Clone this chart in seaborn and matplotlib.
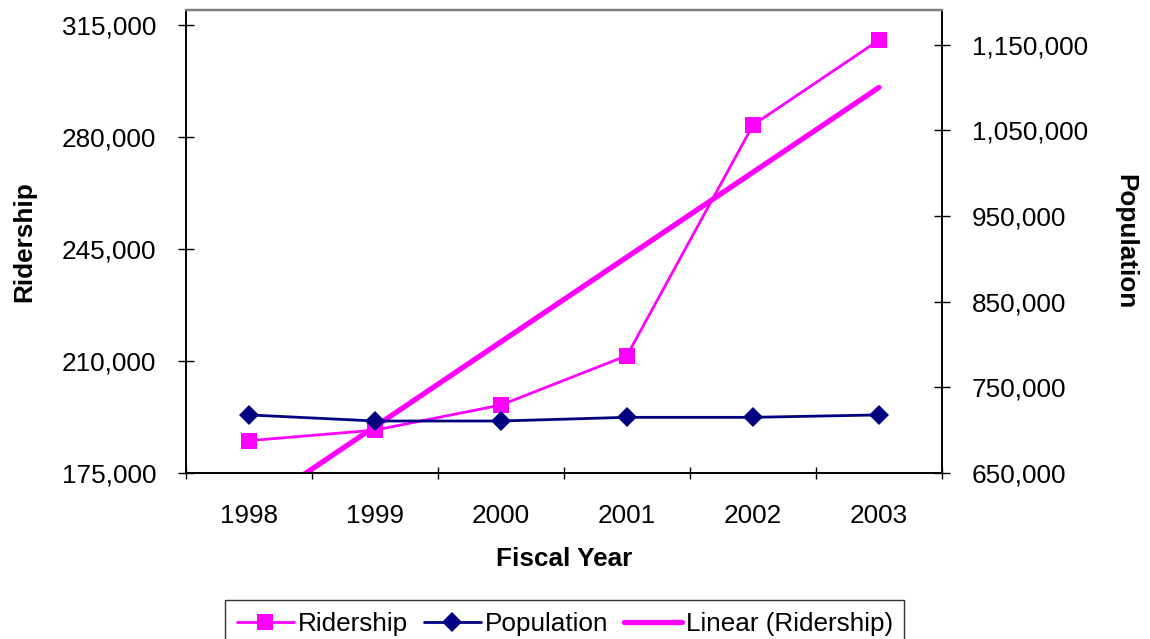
import numpy as np
import pandas as pd
import matplotlib
matplotlib.use("Agg")
import matplotlib.pyplot as plt
import seaborn as sns
from matplotlib.ticker import FuncFormatter, FixedLocator

years = ["1998", "1999", "2000", "2001", "2002", "2003"]
ridership = [185100, 188400, 196250, 211700, 283750, 310300]
population = [717800, 710700, 710700, 715000, 715000, 717800]
left_ticks = [175000, 210000, 245000, 280000, 315000]
right_ticks = [650000, 750000, 850000, 950000, 1050000, 1150000]

sns.set_theme(style="white")
plt.rcParams['font.family'] = ['Liberation Sans', 'DejaVu Sans']
plt.rcParams['text.color'] = 'black'
plt.rcParams['axes.labelcolor'] = 'black'
FS = 18.8

fig = plt.figure(figsize=(11.5, 6.39), dpi=100)
ax = fig.add_axes([186/1150, 1-473/639, (942-186)/1150, (473-10)/639])
ax2 = ax.twinx()

df = pd.DataFrame({"year": years, "ridership": ridership, "population": population})
idx = np.arange(1, len(years)+1)
coef = np.polyfit(idx, ridership, 1)
df["trend"] = np.polyval(coef, idx)

MAG = "#FF00FF"
NAVY = "#000080"

sns.lineplot(data=df, x="year", y="ridership", ax=ax, sort=False, color=MAG,
             marker="s", markersize=11.5, markeredgewidth=0, linewidth=2.0,
             label="Ridership", zorder=3)
sns.lineplot(data=df, x="year", y="trend", ax=ax, sort=False, color=MAG,
             linewidth=3.8, label="Linear (Ridership)", zorder=4)
sns.lineplot(data=df, x="year", y="population", ax=ax2, sort=False, color=NAVY,
             marker="D", markersize=10.5, markeredgewidth=0, linewidth=2.0,
             label="Population", zorder=3)

ax.set_xlim(-0.5, len(years)-0.5)
ax.set_ylim(175000, 319700)
ax2.set_ylim(650000, 1190500)

fmt = FuncFormatter(lambda v, p: f"{int(round(v)):,}")
ax.yaxis.set_major_locator(FixedLocator(left_ticks))
ax2.yaxis.set_major_locator(FixedLocator(right_ticks))
ax.yaxis.set_major_formatter(fmt)
ax2.yaxis.set_major_formatter(fmt)

ax.set_xticks(range(len(years)))
ax.set_xticklabels(years)
ax.xaxis.set_minor_locator(FixedLocator(np.arange(-0.5, len(years), 1.0)))
ax.tick_params(axis="x", which="major", length=0, pad=22, labelsize=FS, colors="black")
ax.tick_params(axis="x", which="minor", length=9, width=1.0, direction="inout", bottom=True, color="black")
ax.tick_params(axis="y", which="major", length=11, width=1.0, direction="inout", left=True,
               pad=16, labelsize=FS, colors="black")
ax2.tick_params(axis="y", which="major", length=11, width=1.0, direction="inout", right=True,
                pad=16, labelsize=FS, colors="black")

for a in (ax, ax2):
    for s in a.spines.values():
        s.set_color("black")
        s.set_linewidth(1.2)
    a.spines["top"].set_color("#808080")
    a.spines["top"].set_linewidth(1.6)
    a.grid(False)

ax.set_xlabel("Fiscal Year", fontsize=FS, fontweight="bold", color="black")
ax.xaxis.set_label_coords(0.5, -0.16)
ax.xaxis.label.set_va("top")
ax.set_ylabel("Ridership", fontsize=FS, fontweight="bold", color="black")
ax.yaxis.set_label_coords(-0.198, 0.5)
ax2.set_ylabel("Population", fontsize=FS, fontweight="bold", rotation=270, va="bottom", color="black")
ax2.yaxis.set_label_coords(1.226, 0.5)

h1, l1 = ax.get_legend_handles_labels()
h2, l2 = ax2.get_legend_handles_labels()
ax.get_legend().remove()
ax2.get_legend().remove()
handles = [h1[0], h2[0], h1[1]]
labels = [l1[0], l2[0], l1[1]]
leg = fig.legend(handles, labels, loc="upper center", bbox_to_anchor=(0.491, 1-600/639),
                 ncol=3, fontsize=FS, frameon=True, fancybox=False, edgecolor="black",
                 handlelength=2.2, handletextpad=0.15, columnspacing=0.6,
                 borderpad=0.45, borderaxespad=0)
leg.get_frame().set_linewidth(1.0)
for t in leg.get_texts():
    t.set_color("black")

fig.savefig("out.png", dpi=100)
